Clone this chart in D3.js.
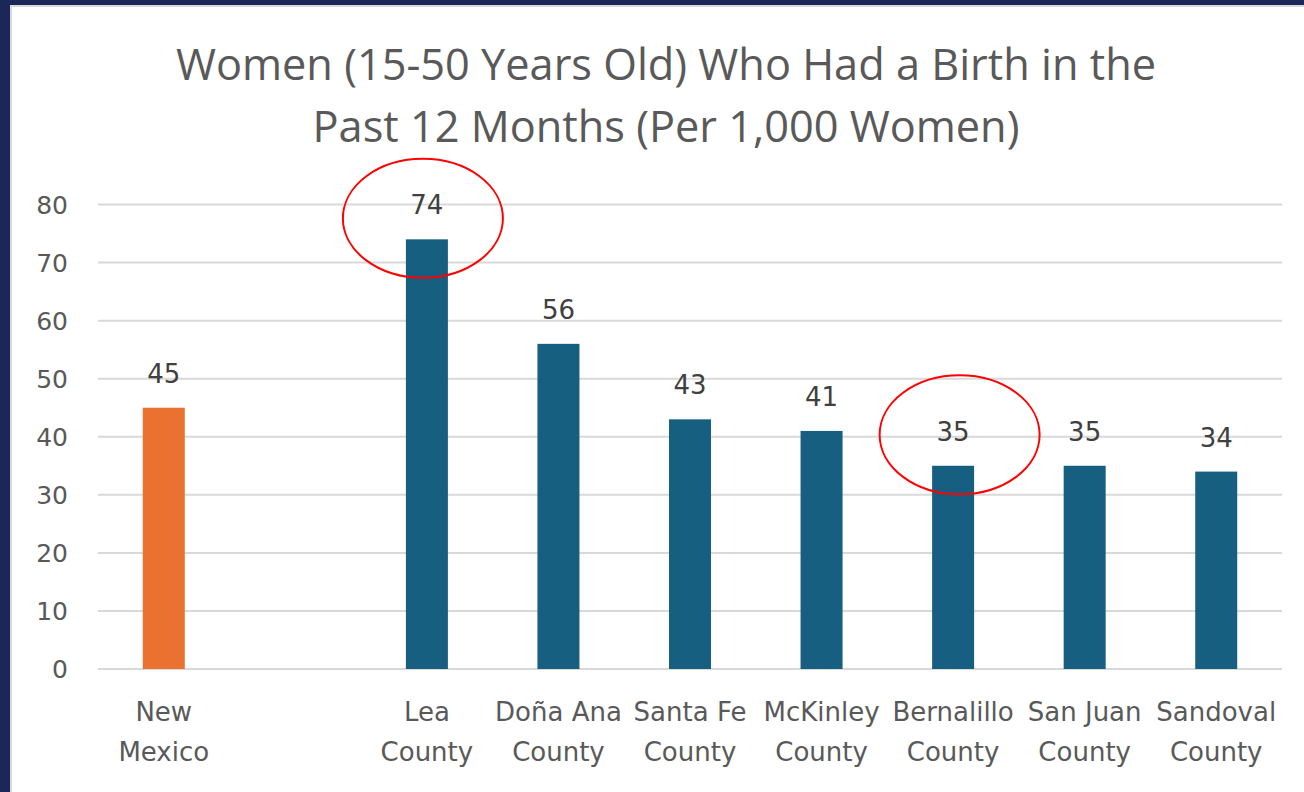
<!DOCTYPE html>
<html><head><meta charset="utf-8">
<script src="https://cdn.jsdelivr.net/npm/d3@7"></script>
<style>html,body{margin:0;padding:0;background:#fff;}svg{display:block;}</style>
</head><body>
<svg id="c" width="1304" height="792"></svg>
<script>
const categories = ["New Mexico", "", "Lea County", "Doña Ana County", "Santa Fe County", "McKinley County", "Bernalillo County", "San Juan County", "Sandoval County"];
const labelLines = [["New","Mexico"], [], ["Lea","County"], ["Doña Ana","County"], ["Santa Fe","County"], ["McKinley","County"], ["Bernalillo","County"], ["San Juan","County"], ["Sandoval","County"]];
const values = [45, null, 74, 56, 43, 41, 35, 35, 34];
const barColors = ["#ea7130", null, "#175f80", "#175f80", "#175f80", "#175f80", "#175f80", "#175f80", "#175f80"];
const yTicks = [0, 10, 20, 30, 40, 50, 60, 70, 80];
const highlighted = ["Lea County", "Bernalillo County"];
const titleLines = ["Women (15-50 Years Old) Who Had a Birth in the", "Past 12 Months (Per 1,000 Women)"];

const svg = d3.select("#c");
const labelFont = "DejaVu Sans, Verdana, sans-serif";
// frame
svg.append("rect").attr("x",0).attr("y",0).attr("width",1304).attr("height",792).attr("fill","#1b2759");
svg.append("rect").attr("x",10).attr("y",5).attr("width",1294).attr("height",787).attr("fill","#d9d9d9");
svg.append("rect").attr("x",12).attr("y",7).attr("width",1292).attr("height",785).attr("fill","#ffffff");

const x = d3.scaleBand().domain(categories.map((c,i)=>i)).range([98, 1282]).paddingInner(0.68).paddingOuter(0.34);
const y = d3.scaleLinear().domain([0, 80]).range([669, 204.5]);

// gridlines
svg.append("g").selectAll("line").data(yTicks).join("line")
  .attr("x1",98).attr("x2",1282).attr("y1",d=>y(d)).attr("y2",d=>y(d))
  .attr("stroke","#d9d9d9").attr("stroke-width",2);

// y axis labels
const yAxis = d3.axisLeft(y).tickValues(yTicks).tickSize(0).tickPadding(0);
const ya = svg.append("g").attr("transform","translate(68,0)").call(yAxis);
ya.select(".domain").remove();
ya.selectAll("text").attr("font-family",labelFont).attr("font-size",25).attr("fill","#595959").attr("dy","0.35em");

// bars
const bw = 42;
const cx = i => x(i) + x.bandwidth()/2;
svg.append("g").selectAll("rect").data(values.map((v,i)=>({v,i})).filter(d=>d.v!=null)).join("rect")
  .attr("x",d=>cx(d.i)-bw/2).attr("width",bw)
  .attr("y",d=>y(d.v)).attr("height",d=>y(0)-y(d.v))
  .attr("fill",d=>barColors[d.i]);

// data labels
svg.append("g").selectAll("text").data(values.map((v,i)=>({v,i})).filter(d=>d.v!=null)).join("text")
  .attr("x",d=>cx(d.i)).attr("y",d=>y(d.v)-25)
  .attr("text-anchor","middle").attr("font-family",labelFont)
  .attr("font-size",26).attr("fill","#404040").text(d=>d.v);

// category labels
const cg = svg.append("g");
labelLines.forEach((lines,i)=>{
  lines.forEach((t,j)=>{
    cg.append("text").attr("x",cx(i)).attr("y",721+j*40)
      .attr("text-anchor","middle").attr("font-family",labelFont)
      .attr("font-size",26).attr("fill","#595959").text(t);
  });
});

// title
titleLines.forEach((t,j)=>{
  svg.append("text").attr("x",666).attr("y",80+j*62).attr("text-anchor","middle")
    .attr("font-family","Open Sans, sans-serif").attr("font-size",43.3).attr("fill","#595959").text(t);
});

// highlight ellipses
const ellipseShift = [-4, 6.5];
highlighted.forEach((name,k)=>{
  const i = categories.indexOf(name);
  const v = values[i];
  svg.append("ellipse").attr("cx",cx(i)+ellipseShift[k]).attr("cy",y(v)-(v>50?21:31))
    .attr("rx",80).attr("ry",59.5).attr("fill","none").attr("stroke","#ff0000").attr("stroke-width",2);
});
</script>
</body></html>
